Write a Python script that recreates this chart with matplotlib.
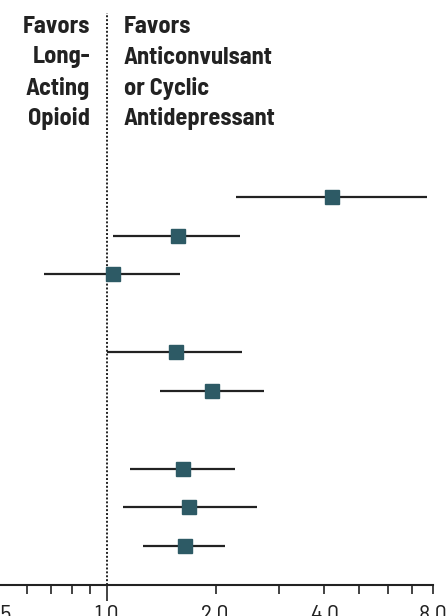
import matplotlib
matplotlib.use("Agg")
import matplotlib.pyplot as plt
from matplotlib.ticker import FixedLocator, NullFormatter

# odds ratios with 95% CI, top to bottom (gaps between groups are empty rows)
rows = [0, 1, 2, 4, 5, 7, 8, 9]
odds_ratio = [4.20, 1.57, 1.04, 1.55, 1.95, 1.63, 1.69, 1.65]
ci_low = [2.28, 1.04, 0.67, 1.00, 1.40, 1.16, 1.11, 1.26]
ci_high = [7.72, 2.34, 1.59, 2.37, 2.73, 2.27, 2.60, 2.13]

major_ticks = [0.5, 1.0, 2.0, 4.0, 8.0]
major_labels = ["0.5", "1.0", "2.0", "4.0", "8.0"]
minor_ticks = [0.6, 0.7, 0.8, 0.9, 3.0, 5.0, 6.0, 7.0]

left_header = ["Favors", "Long-", "Acting", "Opioid"]
right_header = ["Favors", "Anticonvulsant", "or Cyclic", "Antidepressant"]

SQUARE = "#2d5a65"
INK = "#222222"
FONT = ["Barlow Semi Condensed", "Cabin Condensed", "DejaVu Sans"]

W, H = 448, 616
fig = plt.figure(figsize=(W / 100, H / 100), dpi=100)
fig.patch.set_facecolor("white")

# axes placed in pixels: x from -2 to 433, spine at y=585, top at y=13
ax = fig.add_axes([-2 / W, 31 / H, 435 / W, 572 / H])
ax.set_xscale("log", base=2)
ax.set_xlim(0.5, 8)
ax.set_ylim(10.0, -4.73)

ax.axvline(1.0, color=INK, lw=1.4, ls=(0, (1, 1.0)), zorder=1)
ax.hlines(rows, ci_low, ci_high, color=INK, lw=1.6, zorder=2)
ax.plot(odds_ratio, rows, ls="none", marker="s", ms=10.5,
        mfc=SQUARE, mec=SQUARE, zorder=3)

for side in ("left", "right", "top"):
    ax.spines[side].set_visible(False)
ax.spines["bottom"].set_linewidth(1.5)
ax.spines["bottom"].set_color(INK)
ax.set_yticks([])

ax.xaxis.set_major_locator(FixedLocator(major_ticks))
ax.xaxis.set_minor_locator(FixedLocator(minor_ticks))
ax.xaxis.set_minor_formatter(NullFormatter())
ax.set_xticklabels(major_labels, fontsize=17, fontfamily=FONT, color=INK)
ax.tick_params(axis="x", which="both", direction="out", length=6.5,
               width=1.2, color=INK, pad=8)
# the null line gets a longer tick
ax.xaxis.get_major_ticks()[1].tick1line.set_markersize(11.5)

# column headers either side of the null line
for i, line in enumerate(left_header):
    fig.text(90 / W, 1 - (27 + 30.5 * i) / H, line, ha="right", va="center",
             fontsize=17.5, fontweight="bold", fontfamily=FONT, color=INK)
for i, line in enumerate(right_header):
    fig.text(124 / W, 1 - (27 + 30.5 * i) / H, line, ha="left", va="center",
             fontsize=17.5, fontweight="bold", fontfamily=FONT, color=INK)

fig.savefig("out.png", dpi=100, facecolor="white")
